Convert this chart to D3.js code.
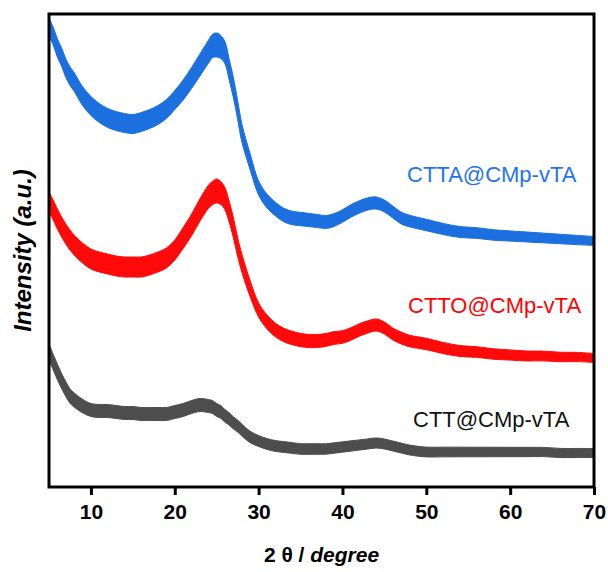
<!DOCTYPE html>
<html>
<head>
<meta charset="utf-8">
<script src="https://cdn.jsdelivr.net/npm/d3@7/dist/d3.min.js"></script>
<style>
  html, body { margin: 0; padding: 0; background: #fff; }
  svg { display: block; }
</style>
</head>
<body>
<script>
// ---------------- data ----------------
const twoTheta = [5,5.5,6,6.5,7,7.5,8,9,10,11,12,13,14,15,16,17,18,19,20,21,22,23,24,24.5,25,25.5,26,26.5,27,27.5,28,29,30,31,32,33,34,35,36,37,38,39,40,41,42,43,44,45,46,47,48,50,52,54,56,58,60,62,64,66,68,70];

const seriesNames = ["CTTA@CMp-vTA", "CTTO@CMp-vTA", "CTT@CMp-vTA"];

const ctta = [460,451,439,430,419,411,405,391,381,374,369,366,364,363,365,368,372,378,387,397,409,422,435,441,442,440,434,417,399,377,354,325,299,286,278,272,269,268,267,266,265,267,271,276,280,283,284,281,275,269,266,262,258,255,254,252,251,250,249,248,247,246];

const ctto = [285,277,268,260,253,247,242,234,228,225,223,221,220,220,220,222,225,229,237,249,262,277,290,294,296,294,288,275,259,240,224,198,177,165,157,152,149,147,146,146,147,149,150,153,157,160,162,159,153,149,146,143,139,136,135,133,132,131,131,130,130,129];

const ctt = [135,125,115,106,98,91,87,81,77,76,76,75,74,74,73,73,73,73,75,77,80,82,81,80,77,75,71,68,64,61,57,50,46,43,41,40,39,38,38,38,38,39,40,41,42,43,44,43,41,39,37,35,35,35,35,35,35,35,35,34,34,34];

// noise band half-width (same a.u. units) read at a few angles
const noiseX = [5, 10, 20, 25, 30, 45, 70];
const cttaNoise = [9, 9.5, 9.5, 12, 7, 6, 4.5];
const cttoNoise = [10, 10, 10, 12, 7, 6, 4.5];
const cttNoise  = [8, 6.5, 6.5, 6.5, 5.5, 5, 4.5];

const xTicks = [10, 20, 30, 40, 50, 60, 70];

// ---------------- chart ----------------
const W = 608, H = 572;
const plot = { left: 49, right: 594, top: 14, bottom: 487 };

const svg = d3.select("body").append("svg")
  .attr("width", W).attr("height", H)
  .style("font-family", "'Liberation Sans', Arial, sans-serif");

const x = d3.scaleLinear().domain([5, 70]).range([plot.left, plot.right]);
const y = d3.scaleLinear().domain([0, 473]).range([plot.bottom, plot.top]);

const series = [
  { name: seriesNames[0], values: ctta, noise: cttaNoise, color: "#1c6fdf", label: "#1f74ee", lx: 407, ly: 182 },
  { name: seriesNames[1], values: ctto, noise: cttoNoise, color: "#ff0a0a", label: "#ff0000", lx: 408, ly: 313 },
  { name: seriesNames[2], values: ctt,  noise: cttNoise,  color: "#4d4d4d", label: "#111111", lx: 413, ly: 427 }
];

svg.append("clipPath").attr("id", "clip")
  .append("rect")
  .attr("x", plot.left).attr("y", plot.top)
  .attr("width", plot.right - plot.left).attr("height", plot.bottom - plot.top);

const g = svg.append("g").attr("clip-path", "url(#clip)");

series.forEach(s => {
  const nz = d3.scaleLinear().domain(noiseX).range(s.noise);
  const pts = twoTheta.map((t, i) => ({ t, v: s.values[i], n: nz(t) }));
  const area = d3.area()
    .x(d => x(d.t))
    .y0(d => y(d.v - d.n))
    .y1(d => y(d.v + d.n))
    .curve(d3.curveCatmullRom.alpha(0.5));
  g.append("path").datum(pts)
    .attr("d", area)
    .attr("fill", s.color)
    .attr("stroke", s.color)
    .attr("stroke-width", 1);
});

// labels
series.forEach(s => {
  svg.append("text")
    .attr("x", s.lx).attr("y", s.ly)
    .attr("font-size", 22)
    .attr("textLength", null)
    .attr("fill", s.label)
    .text(s.name);
});

// frame
svg.append("rect")
  .attr("x", plot.left).attr("y", plot.top)
  .attr("width", plot.right - plot.left).attr("height", plot.bottom - plot.top)
  .attr("fill", "none").attr("stroke", "#000").attr("stroke-width", 3);

// x axis
const xAxis = d3.axisBottom(x).tickValues(xTicks).tickSize(8).tickSizeOuter(0).tickPadding(9);
const ax = svg.append("g").attr("transform", `translate(0,${plot.bottom})`).call(xAxis);
ax.select(".domain").remove();
ax.selectAll(".tick line").attr("stroke", "#000").attr("stroke-width", 3);
ax.selectAll(".tick text")
  .attr("font-size", 21).attr("font-weight", "bold")
  .attr("font-family", "'Liberation Sans', Arial, sans-serif")
  .attr("fill", "#000");

// x title
const xt = svg.append("text")
  .attr("x", (plot.left + plot.right) / 2).attr("y", 562)
  .attr("text-anchor", "middle")
  .attr("font-size", 21).attr("font-weight", "bold").attr("fill", "#000");
xt.append("tspan").text("2 θ / ");
xt.append("tspan").attr("font-style", "italic").text("degree");

// y title
svg.append("text")
  .attr("transform", `translate(31,${(plot.top + plot.bottom) / 2}) rotate(-90)`)
  .attr("text-anchor", "middle")
  .attr("font-size", 24).attr("font-weight", "bold").attr("font-style", "italic")
  .attr("fill", "#000")
  .text("Intensity (a.u.)");
</script>
</body>
</html>
